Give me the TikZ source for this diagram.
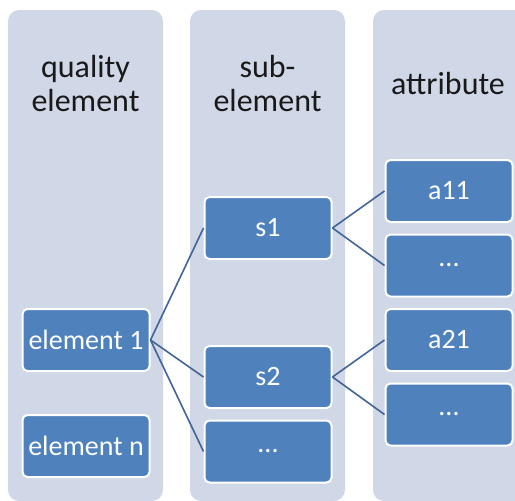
\documentclass[tikz,border=0pt]{standalone}
\usepackage{fontspec}
\setmainfont{Carlito}
\usetikzlibrary{positioning}
\definecolor{lanebg}{RGB}{208,215,230}
\definecolor{boxblue}{RGB}{79,129,189}
\definecolor{linkblue}{RGB}{66,100,150}

\begin{document}
\begin{tikzpicture}[
  x=1pt, y=-1pt,
  node distance=10.5pt,
  lane/.style={fill=lanebg, rounded corners=11pt},
  header/.style={font=\fontsize{32}{34}\selectfont, align=center, text=black!90},
  item/.style={rectangle, draw=white, line width=2pt, fill=boxblue, text=white,
               rounded corners=5pt, minimum width=127pt, minimum height=62pt,
               inner sep=0pt, font=\fontsize{28}{30}\selectfont},
  link/.style={linkblue, line width=1.6pt},
]

\clip (0,0) rectangle (515,501);

% Lanes
\fill[lane] (8,10) rectangle (163,501);
\fill[lane] (190,10) rectangle (345,501);
\fill[lane] (373,10) rectangle (545,501);

\node[header] (hqual) at (85.5,84) {quality\\element};
\node[header] (hsub) at (267.5,84) {sub-\\element};
\node[header] (hattr) at (448,84) {attribute};

% Quality elements
\node[item] (el1) at (86,340) {element 1};
\node[item] (eln) at (86,446) {element n};

% Sub-elements
\node[item] (s1) at (268,228) {s1};
\node[item] (s2) at (268,377) {s2};
\node[item, below=of s2] (sdots) {...};

% Attributes
\node[item] (a11) at (449,191) {a11};
\node[item, below=of a11] (a1dots) {...};
\node[item, below=of a1dots] (a21) {a21};
\node[item, below=of a21] (a2dots) {...};

% Links
\draw[link] (el1.east) -- (s1.west);
\draw[link] (el1.east) -- (s2.west);
\draw[link] (el1.east) -- (sdots.west);
\draw[link] (s1.east) -- (a11.west);
\draw[link] (s1.east) -- (a1dots.west);
\draw[link] (s2.east) -- (a21.west);
\draw[link] (s2.east) -- (a2dots.west);

\end{tikzpicture}
\end{document}
